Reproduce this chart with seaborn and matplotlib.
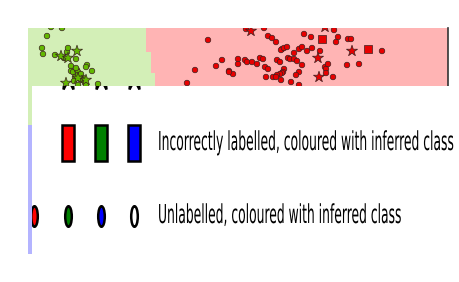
import matplotlib
matplotlib.use("Agg")
import matplotlib.pyplot as plt
import numpy as np
import pandas as pd
import seaborn as sns
from matplotlib import patheffects
from matplotlib.colors import ListedColormap
from matplotlib.markers import MarkerStyle
from matplotlib.transforms import Affine2D

sns.set_theme(style="white")
plt.rcParams["font.family"] = ["DejaVu Sans"]

# ── data (picture coordinates, y grows downwards) ─────────────────────────────

region_x_edges = [28, 32, 146, 151, 155, 448]
region_y_edges = [28, 52, 73, 86, 125, 254]
# 0 = blue, 1 = green, 2 = red
region_classes = [
    [1, 1, 2, 2, 2],
    [1, 1, 1, 2, 2],
    [1, 1, 1, 1, 2],
    [1, 1, 1, 1, 2],
    [0, 0, 0, 0, 2],
]

green_dot_x = [51, 62, 47, 42, 43, 55, 64, 67, 68, 76, 71, 71, 73, 77, 87,
               86, 92, 78, 75, 78, 81, 83, 82, 85, 78, 86, 98, 76, 80, 74]
green_dot_y = [27, 28, 36, 48, 54, 55, 58, 52, 48, 59, 66, 71, 72, 70, 65,
               67, 71, 72, 77, 75, 74, 78, 80, 82, 85, 85, 84, 68, 79, 81]
green_star_x = [61, 68, 77, 86, 66, 78]
green_star_y = [56, 58, 51, 80, 83, 78]

red_dot_x = [208, 195, 187, 216, 222, 229, 233, 238, 238, 245, 247, 252, 246,
             264, 268, 272, 276, 304, 311, 334, 338, 336, 348, 351, 382, 347,
             359, 282, 281, 284, 287, 294, 299, 302, 307, 312, 320, 257, 260,
             263, 277, 280, 288, 290, 294, 297, 302, 265, 268, 284, 283, 282,
             280, 277, 273, 276, 281, 266, 299, 296, 291, 299, 325, 326, 326,
             328, 333, 229]
red_dot_y = [40, 70, 83, 66, 60, 71, 74, 59, 64, 60, 62, 62, 29,
             28, 36, 38, 42, 34, 37, 30, 37, 42, 39, 39, 51, 65,
             64, 49, 50, 48, 47, 53, 49, 47, 51, 48, 51, 64, 58,
             59, 60, 62, 58, 59, 59, 61, 65, 67, 69, 69, 72, 73,
             74, 75, 77, 77, 80, 77, 72, 75, 82, 85, 67, 69, 73,
             64, 77, 72]
red_star_x = [251, 318, 352, 319, 325]
red_star_y = [31, 58, 51, 77, 27]
red_square_x = [322, 368]
red_square_y = [39, 49]

legend_colours = ["red", "green", "blue"]
legend_texts = [
    "Incorrectly labelled, coloured with inferred class",
    "Unlabelled, coloured with inferred class",
]


class Stretch(patheffects.AbstractPathEffect):
    """Stretch glyphs vertically about their baseline."""

    def __init__(self, sy):
        super().__init__()
        self.sy = sy

    def draw_path(self, renderer, gc, tpath, affine, rgbFace=None):
        x0, y0 = affine.transform((0, 0))
        stretch = Affine2D().translate(-x0, -y0).scale(1, self.sy).translate(x0, y0)
        renderer.draw_path(gc, tpath, affine + stretch, rgbFace)


def points_frame(xs, ys, cls, kind):
    return pd.DataFrame({"x": xs, "y": ys, "cls": cls, "kind": kind})


df = pd.concat(
    [
        points_frame(green_dot_x, green_dot_y, "green", "dot"),
        points_frame(green_star_x, green_star_y, "green", "star"),
        points_frame(red_dot_x, red_dot_y, "red", "dot"),
        points_frame(red_star_x, red_star_y, "red", "star"),
        points_frame(red_square_x, red_square_y, "red", "square"),
    ],
    ignore_index=True,
)

fig = plt.figure(figsize=(4.59, 2.82), dpi=100)
W, H = 459, 282

# ── main axes with decision regions ───────────────────────────────────────────
ax = fig.add_axes([28 / W, (H - 254) / H, 420 / W, 226 / H], zorder=1)
cmap = ListedColormap(["#b4b4ff", "#d3efb7", "#ffb4b4"])
ax.pcolormesh(region_x_edges, region_y_edges, np.array(region_classes),
              cmap=cmap, vmin=-0.5, vmax=2.5, shading="flat")
sns.scatterplot(
    data=df, x="x", y="y", hue="cls", style="kind", size="kind",
    palette={"green": "#62b800", "red": "#e80000"},
    markers={"dot": "o", "star": "*", "square": "s"},
    sizes={"dot": 16, "star": 70, "square": 32},
    edgecolor="#3a2020", linewidth=0.5, legend=False, ax=ax, zorder=3,
)
ax.set_xlim(28, 448)
ax.set_ylim(254, 28)
ax.set_xticks([])
ax.set_yticks([])
ax.set_xlabel("")
ax.set_ylabel("")
for side in ["top", "left", "bottom"]:
    ax.spines[side].set_visible(False)
ax.spines["right"].set_color("#333333")
ax.spines["right"].set_linewidth(1.2)

# ── legend panel drawn over the lower part ────────────────────────────────────
lax = fig.add_axes([32 / W, 0, 1 - 32 / W, (H - 86) / H], zorder=2)
lax.set_facecolor("white")
lax.set_xlim(32, 459)
lax.set_ylim(282, 86)
lax.set_xticks([])
lax.set_yticks([])
for sp in lax.spines.values():
    sp.set_visible(False)

squeeze = Affine2D().scale(0.32, 1)
star_m = MarkerStyle("*", transform=squeeze)
rect_m = MarkerStyle("s", transform=squeeze)
ell_m = MarkerStyle("o", transform=squeeze)

handle_x = [67.5, 101, 134]
for hx, col in zip(handle_x, legend_colours):
    lax.plot(hx, 69.5, marker=star_m, ms=36, mfc=col, mec="black", mew=1.8)
    lax.plot(hx, 143, marker=rect_m, ms=25.6, mfc=col, mec="black", mew=1.8)
for hx, col in zip([34] + handle_x, legend_colours + ["white"]):
    lax.plot(hx, 216.5, marker=ell_m, ms=14.8, mfc=col, mec="black", mew=1.8)

texts = [
    lax.text(158, 150, legend_texts[0], fontsize=10, va="baseline", ha="left", color="black"),
    lax.text(158, 223, legend_texts[1], fontsize=10, va="baseline", ha="left", color="black"),
]
fig.canvas.draw()
natural = texts[0].get_window_extent().width
fs = 10 * 296 / natural
sy = 19 / (0.729 * fs * 100 / 72)
for t in texts:
    t.set_fontsize(fs)
    t.set_path_effects([Stretch(sy)])

fig.savefig("out.png", dpi=100)
